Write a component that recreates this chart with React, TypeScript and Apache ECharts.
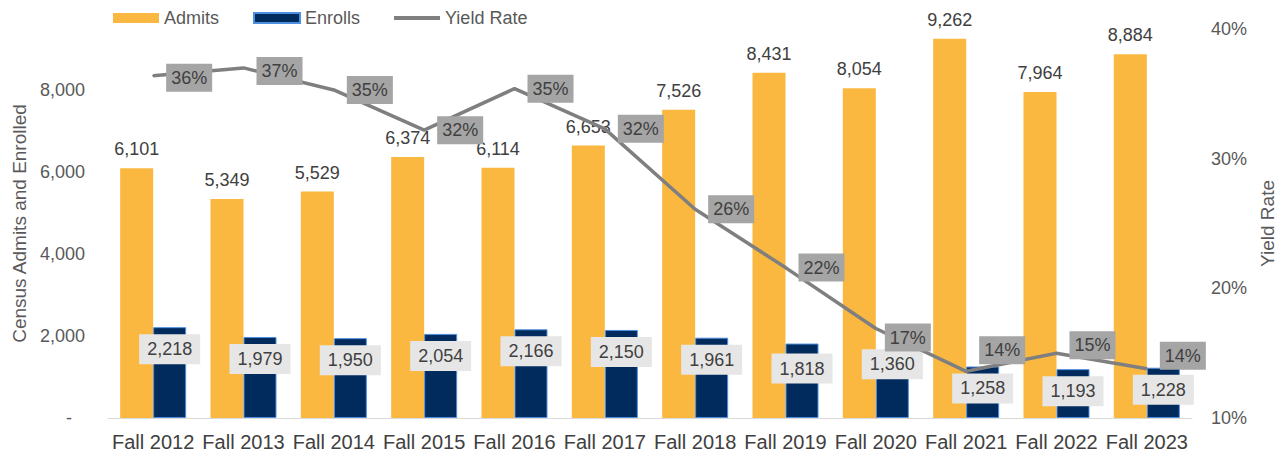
import React, { useEffect, useRef } from 'react';
import * as echarts from 'echarts';

const categories = ['Fall 2012', 'Fall 2013', 'Fall 2014', 'Fall 2015', 'Fall 2016', 'Fall 2017', 'Fall 2018', 'Fall 2019', 'Fall 2020', 'Fall 2021', 'Fall 2022', 'Fall 2023'];
const admits = [6101, 5349, 5529, 6374, 6114, 6653, 7526, 8431, 8054, 9262, 7964, 8884];
const enrolls = [2218, 1979, 1950, 2054, 2166, 2150, 1961, 1818, 1360, 1258, 1193, 1228];
const yieldRate = [36.4, 37.0, 35.3, 32.2, 35.4, 32.3, 26.1, 21.6, 16.9, 13.6, 15.0, 13.8];
const leftTickStep = 2000;
const rightTickStep = 10;

const FONT = '"Liberation Sans", Arial, sans-serif';

// label nudges (style only)
const enrollLabelOffsets: Record<number, number[]> = { 7: [0, 3], 8: [0, -20] };
const yieldLabelOffsets: Record<number, number[]> = { 0: [0, 2], 1: [0, 3], 8: [-4, 9], 9: [0, -21], 10: [0, -8], 11: [0, -13] };

const fmt = (v: number) => v.toLocaleString('en-US');

export default function App() {
  const ref = useRef<HTMLDivElement>(null);
  useEffect(() => {
    if (!ref.current) return;
    const chart = echarts.init(ref.current, undefined, { renderer: 'svg' });
    const option = {
      animation: false,
      textStyle: { fontFamily: FONT },
      legend: {
        left: 113,
        top: 9,
        padding: 0,
        itemWidth: 46,
        itemHeight: 10,
        itemGap: 34,
        textStyle: { fontSize: 18, color: '#595959', fontFamily: FONT },
        data: [
          { name: 'Admits', icon: 'rect' },
          { name: 'Enrolls', icon: 'rect' },
          { name: 'Yield Rate', icon: 'path://M0,0H46V4H0Z' },
        ],
      },
      grid: { left: 108, right: 94, top: 29, bottom: 44 },
      xAxis: {
        type: 'category',
        data: categories,
        axisLine: { lineStyle: { color: '#D9D9D9', width: 1 } },
        axisTick: { show: false },
        axisLabel: { interval: 0, margin: 14, fontSize: 20, color: '#404040', fontFamily: FONT },
      },
      yAxis: [
        {
          type: 'value',
          min: 0,
          max: 9500,
          interval: leftTickStep,
          name: 'Census Admits and Enrolled',
          nameLocation: 'middle',
          nameRotate: 90,
          nameGap: 78,
          nameTextStyle: { fontSize: 19, color: '#595959', fontFamily: FONT },
          splitLine: { show: false },
          axisLine: { show: false },
          axisTick: { show: false },
          axisLabel: {
            margin: 23,
            fontSize: 18,
            color: '#595959',
            fontFamily: FONT,
            formatter: (v: number) => (v === 0 ? '{d|-}' : v % leftTickStep === 0 ? fmt(v) : ''),
            rich: { d: { padding: [0, 13, 0, 0], fontSize: 18, color: '#595959', fontFamily: FONT } },
          },
        },
        {
          type: 'value',
          min: 10,
          max: 40,
          interval: rightTickStep,
          name: 'Yield Rate',
          nameLocation: 'middle',
          nameRotate: 90,
          nameGap: 66,
          nameTextStyle: { fontSize: 19, color: '#595959', fontFamily: FONT },
          splitLine: { show: false },
          axisLine: { show: false },
          axisTick: { show: false },
          axisLabel: { margin: 19, fontSize: 18, color: '#595959', fontFamily: FONT, formatter: '{value}%' },
        },
      ],
      series: [
        {
          name: 'Admits',
          type: 'bar',
          data: admits,
          barWidth: 33,
          barGap: '0%',
          itemStyle: { color: '#FBB840' },
          label: {
            show: true,
            position: 'top',
            distance: 10,
            fontSize: 18,
            color: '#404040',
            fontFamily: FONT,
            formatter: (p: any) => fmt(p.value),
          },
        },
        {
          name: 'Enrolls',
          type: 'bar',
          data: enrolls.map((v, i) =>
            enrollLabelOffsets[i] ? { value: v, label: { offset: enrollLabelOffsets[i] } } : v
          ),
          barWidth: 33,
          itemStyle: { color: '#002B5C', borderColor: '#4F8FE0', borderWidth: 1 },
          label: {
            show: true,
            position: 'insideTop',
            distance: 7,
            fontSize: 18,
            color: '#404040',
            fontFamily: FONT,
            backgroundColor: '#E7E6E6',
            padding: [6, 8],
            formatter: (p: any) => fmt(p.value),
          },
        },
        {
          name: 'Yield Rate',
          type: 'line',
          yAxisIndex: 1,
          data: yieldRate.map((v, i) =>
            yieldLabelOffsets[i] ? { value: v, label: { offset: yieldLabelOffsets[i] } } : v
          ),
          symbol: 'circle',
          symbolSize: 2,
          itemStyle: { color: '#7F7F7F' },
          lineStyle: { color: '#7F7F7F', width: 3.5 },
          z: 5,
          label: {
            show: true,
            position: 'right',
            distance: 12,
            fontSize: 18,
            color: '#404040',
            fontFamily: FONT,
            backgroundColor: '#A5A5A5',
            padding: [5, 5],
            formatter: (p: any) => Math.round(p.value) + '%',
          },
        },
      ],
    };
    chart.setOption(option as any);
    return () => chart.dispose();
  }, []);
  return (
    <div
      ref={ref}
      style={{ position: 'fixed', left: 0, top: 0, width: 1286, height: 462, background: '#fff' }}
    />
  );
}
